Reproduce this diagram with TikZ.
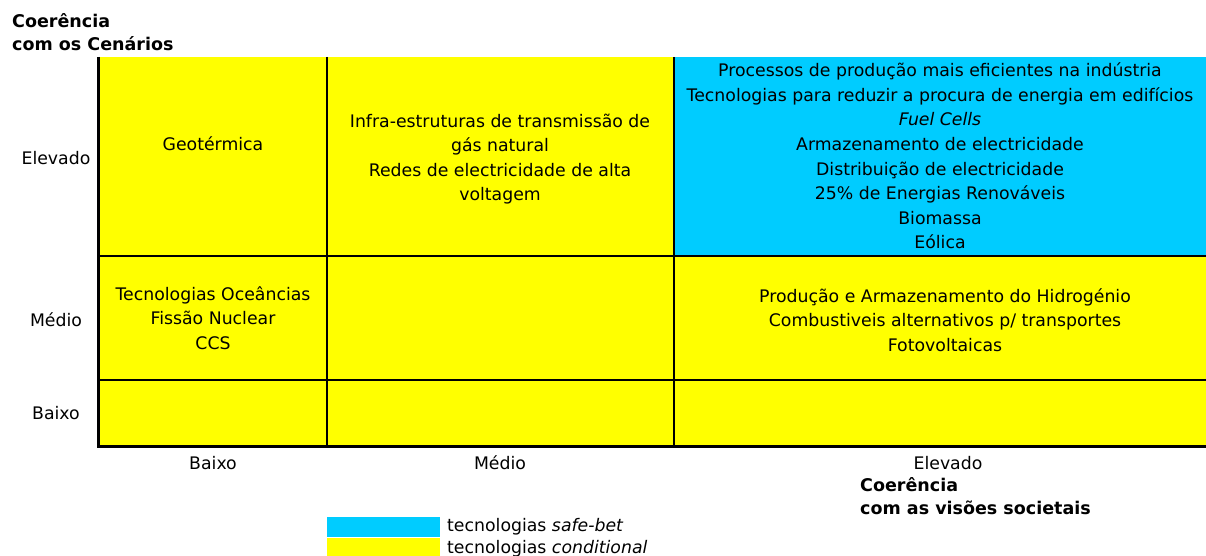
\documentclass[tikz,border=0pt]{standalone}
\usepackage{fontspec}
\setmainfont{DejaVu Sans}
\usepackage{xcolor}
\definecolor{safebet}{HTML}{00CCFF}
\definecolor{cond}{HTML}{FFFF00}
\begin{document}
\begin{tikzpicture}
  [x=1pt,y=-1pt]
      \tikzstyle{cell_text} = [align=center, font=\fontsize{17.3}{24.6}\selectfont, inner sep=0pt]
      \tikzstyle{axis_text} = [font=\fontsize{17.3}{24.6}\selectfont, inner sep=0pt]
      \tikzstyle{title_text} = [align=left, font=\fontsize{17.5}{23.5}\selectfont\bfseries, inner sep=0pt]
      \tikzstyle{grid_style} = [draw=black, line width=2]
  \useasboundingbox (0,0) rectangle (1206,556);
  \fill[cond] (98,57) rectangle (1206,446);
  \fill[safebet] (674,57) rectangle (1206,256);
  \draw[grid_style] (98,256) -- (1206,256);
  \draw[grid_style] (98,380) -- (1206,380);
  \draw[grid_style] (327,57) -- (327,446);
  \draw[grid_style] (674,57) -- (674,446);
  \draw[draw=black, line width=3] (98,57) -- (98,446) -- (1206,446);
  \node[title_text, anchor=north west] (ty) at (12,13) {Coerência\\com os Cenários};
  \node[axis_text] (y3) at (56,158) {Elevado};
  \node[axis_text] (y2) at (56,320) {Médio};
  \node[axis_text] (y1) at (56,413) {Baixo};
  \node[axis_text] (x1) at (213,463) {Baixo};
  \node[axis_text] (x2) at (500,463) {Médio};
  \node[axis_text] (x3) at (948,463) {Elevado};
  \node[title_text, anchor=north west] (tx) at (860,477) {Coerência\\com as visões societais};
  \node[cell_text] (c13) at (213,144) {Geotérmica};
  \node[cell_text] (c23) at (500,159) {Infra-estruturas de transmissão de\\gás natural\\Redes de electricidade de alta\\voltagem};
  \node[cell_text] (c33) at (940,156) {Processos de produção mais eficientes na indústria\\Tecnologias para reduzir a procura de energia em edifícios\\\textit{Fuel Cells}\\Armazenamento de electricidade\\Distribuição de electricidade\\25\% de Energias Renováveis\\Biomassa\\Eólica};
  \node[cell_text] (c12) at (213,318) {Tecnologias Oceâncias\\Fissão Nuclear\\CCS};
  \node[cell_text] (c32) at (945,320) {Produção e Armazenamento do Hidrogénio\\Combustiveis alternativos p/ transportes\\Fotovoltaicas};
  \node[fill=safebet, minimum width=113, minimum height=20, inner sep=0pt, anchor=north west] (l1) at (327,517) {};
  \node[fill=cond, minimum width=113, minimum height=20, inner sep=0pt, anchor=north west] (l2) at (327,538) {};
  \node[axis_text, anchor=west] (t1) at (447,527) {tecnologias \textit{safe-bet}};
  \node[axis_text, anchor=west] (t2) at (447,549) {tecnologias \textit{conditional}};
\end{tikzpicture}
\end{document}
